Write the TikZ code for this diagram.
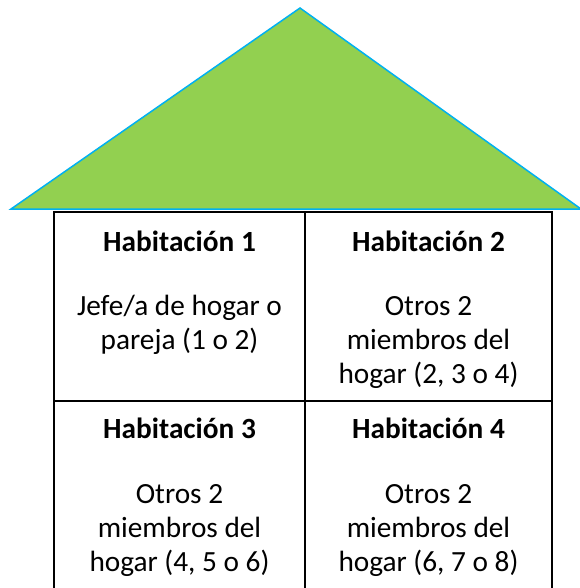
\documentclass[tikz,border=0pt]{standalone}
\usepackage{fontspec}
\setmainfont{Carlito}
\definecolor{roofgreen}{RGB}{146,208,80}
\definecolor{roofblue}{RGB}{0,176,240}
\begin{document}
\begin{tikzpicture}[x=1pt,y=-1pt,
  roof/.style={fill=roofgreen,draw=roofblue,line width=1.5pt,line join=miter},
  grid/.style={draw=black,line width=1.8pt},
  roomtitle/.style={anchor=base,inner sep=0pt,font=\fontsize{29.3}{34}\selectfont\bfseries},
  roombody/.style={anchor=base,inner sep=0pt,align=center,font=\fontsize{29.3}{34}\selectfont}]
\useasboundingbox (0,0) rectangle (579,588);
\coordinate (apex) at (300,8);
\coordinate (bl) at (11,209);
\coordinate (br) at (581,209);
\filldraw[roof] (bl) -- (apex) -- (br) -- cycle;
% table
\coordinate (tl) at (54,212);
\coordinate (tr) at (552,212);
\coordinate (ml) at (54,401);
\coordinate (mr) at (552,401);
\coordinate (bL) at (54,592);
\coordinate (bR) at (552,592);
\coordinate (mt) at (305,212);
\coordinate (mb) at (305,592);
\draw[grid] (tl) rectangle (bR);
\draw[grid] (ml) -- (mr);
\draw[grid] (mt) -- (mb);
% room 1 (base anchor = baseline of last line)
\node[roomtitle] (t1) at (179.5,251) {Habitación 1};
\node[roombody] (b1) at (179.5,349) {Jefe/a de hogar o\\pareja (1 o 2)};
% room 2
\node[roomtitle] (t2) at (428.5,251) {Habitación 2};
\node[roombody] (b2) at (428.5,383) {Otros 2\\miembros del\\hogar (2, 3 o 4)};
% room 3
\node[roomtitle] (t3) at (179.5,438) {Habitación 3};
\node[roombody] (b3) at (179.5,571) {Otros 2\\miembros del\\hogar (4, 5 o 6)};
% room 4
\node[roomtitle] (t4) at (428.5,438) {Habitación 4};
\node[roombody] (b4) at (428.5,571) {Otros 2\\miembros del\\hogar (6, 7 o 8)};
\end{tikzpicture}
\end{document}
